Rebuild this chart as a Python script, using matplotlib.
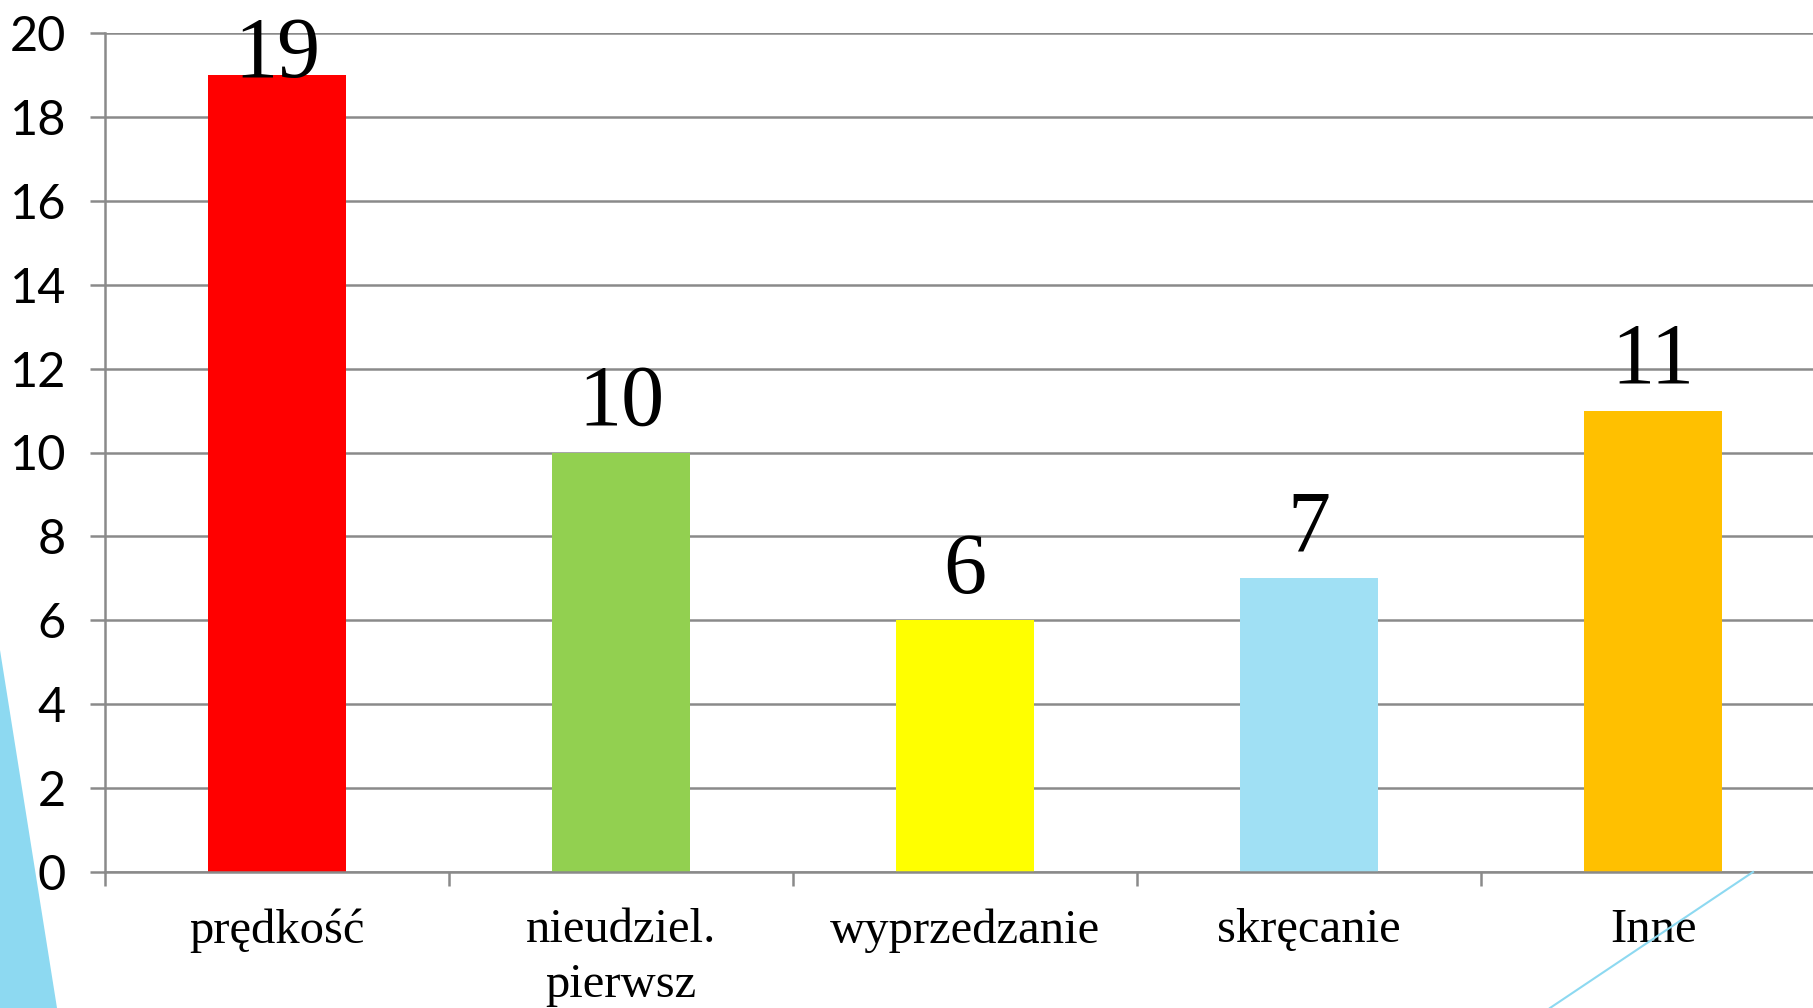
import numpy as np
import matplotlib
matplotlib.use("Agg")
import matplotlib.pyplot as plt
from matplotlib.patches import Polygon
from matplotlib.lines import Line2D

# dane
categories = ["prędkość", "nieudziel.\npierwsz", "wyprzedzanie", "skręcanie", "Inne"]
values = [19, 10, 6, 7, 11]
colors = ["#FF0000", "#92D050", "#FFFF00", "#A0E0F4", "#FFC000"]
yticks = [0, 2, 4, 6, 8, 10, 12, 14, 16, 18, 20]

W, H = 1813, 1008
fig = plt.figure(figsize=(W / 100, H / 100), dpi=100)

# tlo - dekoracje slajdu (trojkat po lewej, linia w prawym dolnym rogu)
fig.patches.append(Polygon([(0, (H - 650) / H), (57 / W, 0), (0, 0)], closed=True,
                           transform=fig.transFigure, facecolor="#8DD9F1",
                           edgecolor="none", zorder=0))
fig.lines.append(Line2D([1753 / W, 1550 / W], [(H - 872) / H, 0],
                        transform=fig.transFigure, color="#8DD9F1", lw=1.5, zorder=5))

left, bottom, top = 105 / W, (H - 872) / H, (H - 33) / H
ax = fig.add_axes([left, bottom, 5 * 344 / W, top - bottom])
ax.set_facecolor("none")

grid_c = "#8A8A8A"
x = np.arange(len(categories))
ax.bar(x, values, width=0.4, color=colors, zorder=3)

ax.set_xlim(-0.5, len(categories) - 0.5)
ax.set_ylim(0, 20)
ax.set_yticks(yticks)
ax.yaxis.grid(True, color=grid_c, lw=1.8, zorder=1)
ax.set_axisbelow(True)

for s in ["top", "right"]:
    ax.spines[s].set_visible(False)
for s in ["left", "bottom"]:
    ax.spines[s].set_color(grid_c)
    ax.spines[s].set_linewidth(1.8)
ax.spines["bottom"].set_zorder(4)

ax.tick_params(axis="y", direction="out", length=11, width=1.8, color=grid_c,
               pad=17, labelsize=35)
for lab in ax.get_yticklabels():
    lab.set_fontfamily("Lato")

# podzialki na granicach kategorii, podpisy w srodkach
ax.set_xticks(np.arange(len(categories) + 1) - 0.5)
ax.set_xticklabels([])
ax.tick_params(axis="x", which="major", direction="out", length=10, width=1.8, color=grid_c)
ax.set_xticks(x, minor=True)
ax.set_xticklabels(categories, minor=True, fontsize=35, fontfamily="Liberation Serif",
                   linespacing=1.32, va="top")
ax.tick_params(axis="x", which="minor", length=0, pad=26)

# etykiety wartosci
for xi, v in zip(x, values):
    if v + 2.2 > 20:
        ax.text(xi, v - 0.05, str(v), ha="center", va="baseline", fontsize=62,
                fontfamily="Liberation Serif", zorder=5)
    else:
        ax.annotate(str(v), (xi, v), xytext=(0, 20), textcoords="offset points",
                    ha="center", va="baseline", fontsize=62,
                    fontfamily="Liberation Serif", zorder=5)

fig.savefig("out.png", dpi=100)
